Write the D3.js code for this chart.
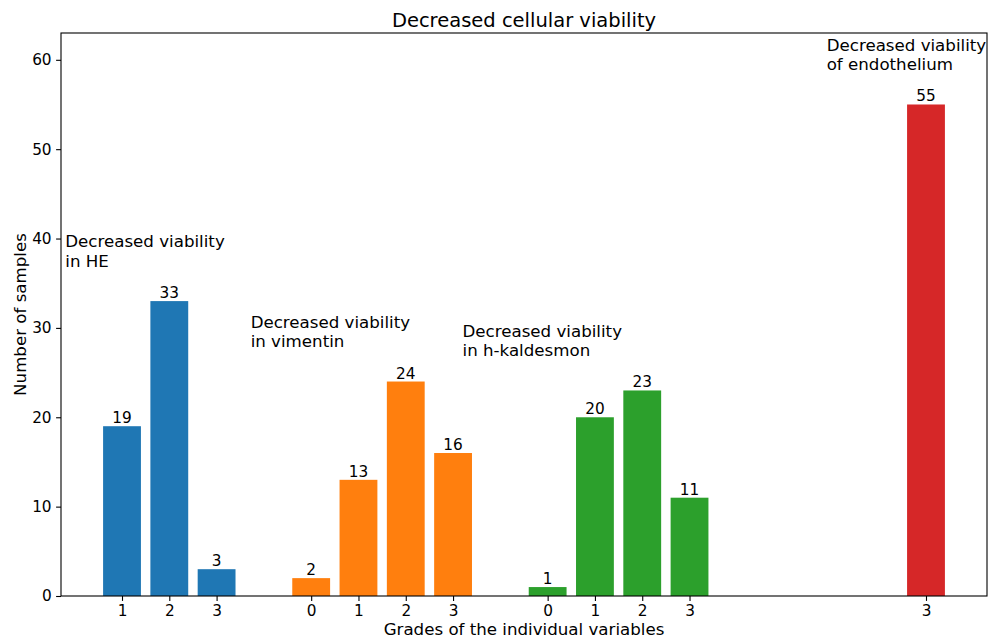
<!DOCTYPE html>
<html>
<head>
<meta charset="utf-8">
<script src="https://cdn.jsdelivr.net/npm/d3@7"></script>
<style>
  html, body { margin: 0; padding: 0; background: #fff; }
  svg { display: block; font-family: "DejaVu Sans", sans-serif; }
</style>
</head>
<body>
<svg id="chart" width="988" height="641"></svg>
<script>
// Grouped bars: one group per stained marker, one bar per grade
const groupNames = ["HE", "vimentin", "h-kaldesmon", "endothelium"];
const groupNotes = [
  ["Decreased viability", "in HE"],
  ["Decreased viability", "in vimentin"],
  ["Decreased viability", "in h-kaldesmon"],
  ["Decreased viability", "of endothelium"]
];
const groupColors = ["#1f77b4", "#ff7f0e", "#2ca02c", "#d62728"];

const gradesHE = [1, 2, 3];
const valuesHE = [19, 33, 3];
const gradesVimentin = [0, 1, 2, 3];
const valuesVimentin = [2, 13, 24, 16];
const gradesKaldesmon = [0, 1, 2, 3];
const valuesKaldesmon = [1, 20, 23, 11];
const gradesEndothelium = [3];
const valuesEndothelium = [55];

// slot index of each bar along the x axis
const slotsHE = [0, 1, 2];
const slotsVimentin = [4, 5, 6, 7];
const slotsKaldesmon = [9, 10, 11, 12];
const slotsEndothelium = [17];

const yTicks = [0, 10, 20, 30, 40, 50, 60];

// note anchors in data units (x slot, y value of first line baseline)
const noteAnchors = [[-1.2, 39], [2.72, 30], [7.2, 29], [14.9, 61]];

const groups = [
  { grades: gradesHE, values: valuesHE, slots: slotsHE },
  { grades: gradesVimentin, values: valuesVimentin, slots: slotsVimentin },
  { grades: gradesKaldesmon, values: valuesKaldesmon, slots: slotsKaldesmon },
  { grades: gradesEndothelium, values: valuesEndothelium, slots: slotsEndothelium }
];

const bars = [];
groups.forEach((g, gi) => {
  g.values.forEach((v, i) => {
    bars.push({ group: gi, grade: g.grades[i], value: v, slot: g.slots[i] });
  });
});

const margin = { left: 61, top: 33, right: 1, bottom: 45 };
const W = 988, H = 641;
const innerW = W - margin.left - margin.right;
const innerH = H - margin.top - margin.bottom;

const barWidth = 0.8;
const slotMin = d3.min(bars, d => d.slot) - barWidth / 2;
const slotMax = d3.max(bars, d => d.slot) + barWidth / 2;
const pad = (slotMax - slotMin) * 0.05;

const x = d3.scaleLinear().domain([slotMin - pad, slotMax + pad]).range([0, innerW]);
const y = d3.scaleLinear().domain([0, 63]).range([innerH, 0]);

const svg = d3.select("#chart");
const g = svg.append("g").attr("transform", `translate(${margin.left},${margin.top})`);

// bars
g.selectAll("rect.bar").data(bars).join("rect")
  .attr("class", "bar")
  .attr("x", d => x(d.slot - barWidth / 2))
  .attr("width", d => x(d.slot + barWidth / 2) - x(d.slot - barWidth / 2))
  .attr("y", d => y(d.value))
  .attr("height", d => y(0) - y(d.value))
  .attr("fill", d => groupColors[d.group]);

// value labels above bars
g.selectAll("text.val").data(bars).join("text")
  .attr("class", "val")
  .attr("x", d => x(d.slot))
  .attr("y", d => y(d.value) - 3)
  .attr("text-anchor", "middle")
  .attr("font-size", "15.3px")
  .attr("fill", "#000")
  .text(d => d.value);

// group notes
groupNotes.forEach((lines, i) => {
  const t = g.append("text")
    .attr("x", x(noteAnchors[i][0]))
    .attr("y", y(noteAnchors[i][1]))
    .attr("font-size", "16.67px")
    .attr("fill", "#000");
  lines.forEach((line, li) => {
    t.append("tspan")
      .attr("x", x(noteAnchors[i][0]))
      .attr("dy", li === 0 ? 0 : 19.2)
      .text(line);
  });
});

// x axis with grade labels at each bar slot
const xAxis = d3.axisBottom(x)
  .tickValues(bars.map(d => d.slot))
  .tickFormat((s) => bars.find(b => b.slot === s).grade)
  .tickSize(4.9)
  .tickPadding(4.5);
const gx = g.append("g").attr("transform", `translate(0,${innerH})`).call(xAxis);
gx.select(".domain").remove();
gx.selectAll("text").attr("font-size", "15.3px").attr("fill", "#000")
  .attr("font-family", "DejaVu Sans, sans-serif");
gx.selectAll("line").attr("stroke", "#000").attr("stroke-width", 1.1);

const yAxis = d3.axisLeft(y).tickValues(yTicks).tickSize(4.9).tickPadding(4.5);
const gy = g.append("g").call(yAxis);
gy.select(".domain").remove();
gy.selectAll("text").attr("font-size", "15.3px").attr("fill", "#000")
  .attr("font-family", "DejaVu Sans, sans-serif");
gy.selectAll("line").attr("stroke", "#000").attr("stroke-width", 1.1);

// axes frame
g.append("rect")
  .attr("x", 0).attr("y", 0)
  .attr("width", innerW).attr("height", innerH)
  .attr("fill", "none")
  .attr("stroke", "#000")
  .attr("stroke-width", 1.1);

// title and axis labels
svg.append("text")
  .attr("x", margin.left + innerW / 2)
  .attr("y", 27)
  .attr("text-anchor", "middle")
  .attr("font-size", "19.5px")
  .attr("fill", "#000")
  .text("Decreased cellular viability");

svg.append("text")
  .attr("x", margin.left + innerW / 2)
  .attr("y", 635)
  .attr("text-anchor", "middle")
  .attr("font-size", "16.67px")
  .attr("fill", "#000")
  .text("Grades of the individual variables");

svg.append("text")
  .attr("transform", `translate(25.5,${margin.top + innerH / 2}) rotate(-90)`)
  .attr("text-anchor", "middle")
  .attr("font-size", "16.67px")
  .attr("fill", "#000")
  .text("Number of samples");
</script>
</body>
</html>
